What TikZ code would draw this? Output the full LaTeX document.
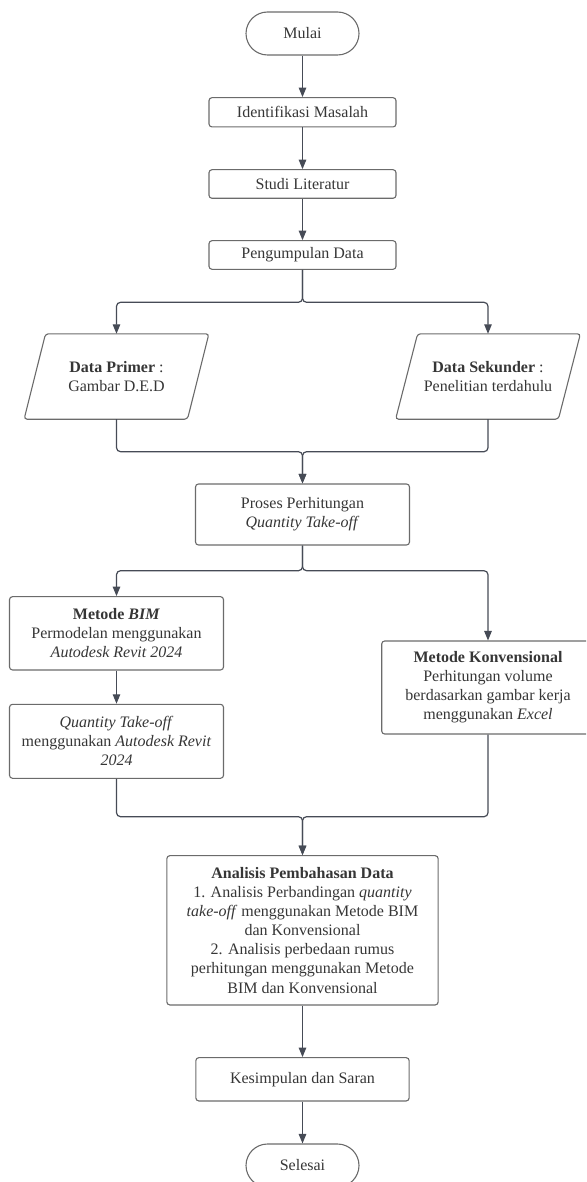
\documentclass[tikz,border=0pt]{standalone}
\usepackage{fontspec}
\setmainfont{Liberation Serif}
\usetikzlibrary{arrows.meta,calc}
\definecolor{linec}{HTML}{464B56}
\definecolor{boxc}{HTML}{6B6B6B}
\definecolor{txtc}{HTML}{363636}
\begin{document}
\begin{tikzpicture}[x=1pt,y=-1pt,
  every node/.style={text=txtc, font=\fontsize{16}{19.1}\selectfont, align=center, inner sep=0pt},
  proc/.style={draw=boxc, line width=1.1pt, rounded corners=3pt},
  term/.style={draw=boxc, line width=1.1pt, rounded corners=21.5pt, minimum width=113pt, minimum height=43pt},
  iobox/.style={minimum width=184.4pt, minimum height=85pt},
  ioline/.style={draw=boxc, line width=1.1pt, rounded corners=3pt},
  conn/.style={draw=linec, line width=1.2pt, rounded corners=4pt},
  arr/.style={conn, -{Triangle[length=9.5pt,width=7.5pt]}}
]
\useasboundingbox (0,0) rectangle (586,1182);
\clip (0,0) rectangle (586,1182);

\node[term] (mulai) at (302.5,33.5) {Mulai};
\node[proc, minimum width=187pt, minimum height=29.3pt] (ident) at (302.5,112.3) {Identifikasi Masalah};
\node[proc, minimum width=187pt, minimum height=28.6pt] (studi) at (302.5,184) {Studi Literatur};
\node[proc, minimum width=187pt, minimum height=28.6pt] (peng) at (302.5,255) {Pengumpulan Data};

\node[iobox] (primer) at (116.5,376.5) {\textbf{Data Primer} :\\Gambar D.E.D};
\draw[ioline] ($(primer.north west)+(21.4,0)$) -- (primer.north east) -- ($(primer.south east)-(21.4,0)$) -- (primer.south west) -- cycle;
\node[iobox] (sek) at (488,376.5) {\textbf{Data Sekunder} :\\Penelitian terdahulu};
\draw[ioline] ($(sek.north west)+(22,0)$) -- (sek.north east) -- ($(sek.south east)-(22,0)$) -- (sek.south west) -- cycle;

\node[proc, minimum width=214pt, minimum height=61pt] (proses) at (302.5,514.5) {Proses Perhitungan\\\textit{Quantity Take-off}};

\node[proc, minimum width=214pt, minimum height=73.3pt] (bim) at (116.5,633.3) {\textbf{Metode \textit{BIM}}\\Permodelan menggunakan\\\textit{Autodesk Revit 2024}};
\node[proc, minimum width=214pt, minimum height=74pt] (qto) at (116.5,741.3) {\textit{Quantity Take-off}\\menggunakan \textit{Autodesk Revit}\\\textit{2024}};
\node[proc, minimum width=212.6pt, minimum height=93pt] (konv) at (488,687.5) {\textbf{Metode Konvensional}\\Perhitungan volume\\berdasarkan gambar kerja\\menggunakan \textit{Excel}};

\node[proc, minimum width=271.3pt, minimum height=149.3pt] (anal) at (302.5,930.3) {\textbf{Analisis Pembahasan Data}\\1. Analisis Perbandingan \textit{quantity}\\\textit{take-off} menggunakan Metode BIM\\dan Konvensional\\2. Analisis perbedaan rumus\\perhitungan menggunakan Metode\\BIM dan Konvensional};
\node[proc, minimum width=213.3pt, minimum height=43.3pt] (kes) at (302.5,1079.3) {Kesimpulan dan Saran};
\node[term] (sel) at (302.5,1165.5) {Selesai};

\coordinate (s1) at (302.5,302.3);
\coordinate (m1) at (302.5,451.7);
\coordinate (s2) at (302.5,570.7);
\coordinate (m2) at (302.5,816.7);

\draw[arr] (mulai) -- (ident);
\draw[arr] (ident) -- (studi);
\draw[arr] (studi) -- (peng);
\draw[arr] (peng.south) -- (s1) -| (primer.north);
\draw[arr] (peng.south) -- (s1) -| (sek.north);
\draw[arr] (primer.south) |- (m1) -- (proses.north);
\draw[arr] (sek.south) |- (m1) -- (proses.north);
\draw[arr] (proses.south) -- (s2) -| (bim.north);
\draw[arr] (proses.south) -- (s2) -| (konv.north);
\draw[arr] (bim) -- (qto);
\draw[arr] (qto.south) |- (m2) -- (anal.north);
\draw[arr] (konv.south) |- (m2) -- (anal.north);
\draw[arr] (anal) -- (kes);
\draw[arr] (kes) -- (sel);
\end{tikzpicture}
\end{document}
